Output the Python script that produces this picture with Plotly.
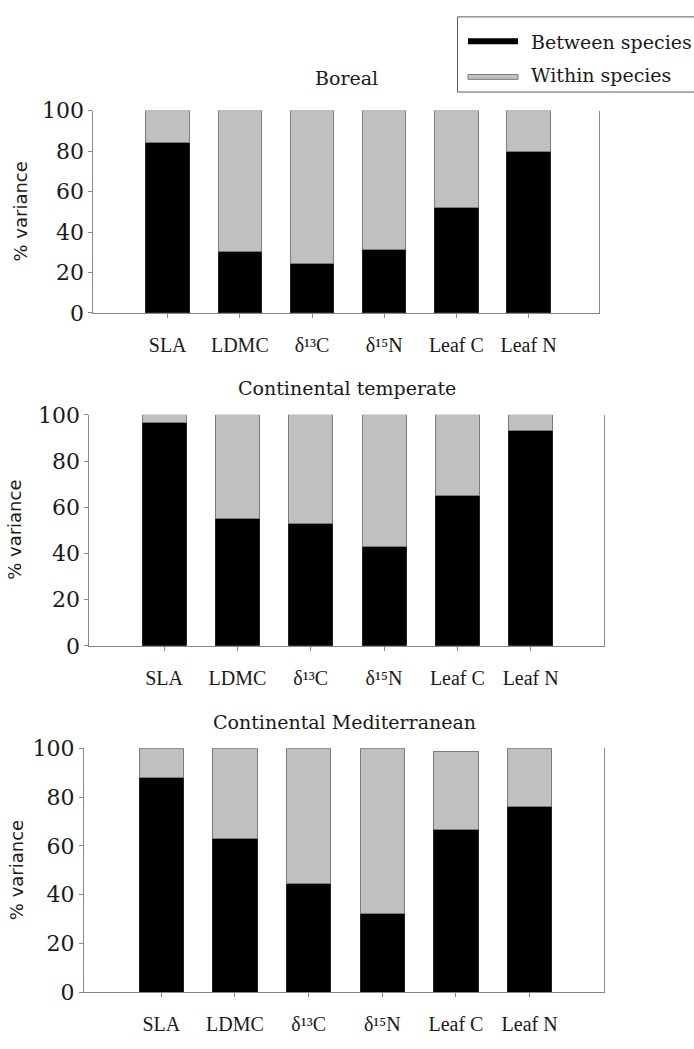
import plotly.graph_objects as go

W, H = 694, 1049

traits = ["SLA", "LDMC", "δ¹³C", "δ¹⁵N", "Leaf C", "Leaf N"]

regions = ["Boreal", "Continental temperate", "Continental Mediterranean"]

boreal_between = [84.2, 30.4, 24.6, 31.6, 52.1, 79.9]
boreal_within = [15.8, 69.6, 75.4, 68.4, 47.9, 20.1]

temperate_between = [96.5, 55.2, 52.8, 42.8, 65.1, 93.1]
temperate_within = [3.5, 44.8, 47.2, 57.2, 34.9, 6.9]

mediterranean_between = [88.1, 62.9, 44.5, 32.4, 66.9, 76.2]
mediterranean_within = [11.9, 37.1, 55.5, 67.6, 31.9, 23.8]

y_ticks = [0, 20, 40, 60, 80, 100]

series = [
    (boreal_between, boreal_within),
    (temperate_between, temperate_within),
    (mediterranean_between, mediterranean_within),
]

# panel geometry in pixels: (left, right, top, bottom), x range
panels = [
    ((93.3, 599.3, 101.0, 308.3), [-1.03, 5.98]),
    ((89.3, 604.0, 412.7, 649.3), [-1.02, 6.00]),
    ((84.0, 604.0, 754.3, 1004.0), [-1.05, 6.01]),
]

AXIS = "#868686"
TEXT = "#1a1a1a"
GREY = "#c0c0c0"


def px(x):
    return x / W


def py(y):
    return 1 - y / H


fig = go.Figure()
x_idx = list(range(len(traits)))

for i, (between, within) in enumerate(series):
    n = "" if i == 0 else str(i + 1)
    fig.add_trace(go.Bar(
        x=x_idx, y=between, xaxis="x" + n, yaxis="y" + n,
        marker=dict(color="black", line=dict(color="#202020", width=1)),
        width=0.6, showlegend=False, name="Between species",
    ))
    fig.add_trace(go.Bar(
        x=x_idx, y=within, xaxis="x" + n, yaxis="y" + n,
        marker=dict(color=GREY, line=dict(color="#7a7a7a", width=1)),
        width=0.6, showlegend=False, name="Within species",
    ))

layout = dict(
    width=W, height=H,
    margin=dict(l=0, r=0, t=0, b=0),
    paper_bgcolor="white", plot_bgcolor="white",
    barmode="stack", bargap=0.4,
    showlegend=False,
)

annotations = []
for i, ((l, r, t, b), xr) in enumerate(panels):
    n = "" if i == 0 else str(i + 1)
    layout["xaxis" + n] = dict(
        domain=[px(l), px(r)], anchor="y" + n, range=xr,
        tickmode="array", tickvals=x_idx, ticktext=traits,
        ticks="outside", ticklen=4, tickcolor=AXIS, tickwidth=1,
        showline=True, linecolor=AXIS, linewidth=1,
        showgrid=False, zeroline=False,
        ticklabelstandoff=10,
        tickfont=dict(family="Liberation Serif, serif", size=20, color=TEXT),
    )
    layout["yaxis" + n] = dict(
        domain=[py(b), py(t)], anchor="x" + n, range=[0, 100],
        tickmode="array", tickvals=y_ticks,
        ticks="outside", ticklen=4, tickcolor=AXIS, tickwidth=1,
        showline=True, linecolor=AXIS, linewidth=1, mirror=True,
        showgrid=False, zeroline=False,
        tickfont=dict(family="DejaVu Serif, serif", size=22, color=TEXT),
    )
    # panel title
    annotations.append(dict(
        text=regions[i], xref="paper", yref="paper",
        x=px((l + r) / 2), y=py([68, 385, 727][i]),
        xanchor="center", yanchor="middle", showarrow=False,
        font=dict(family="DejaVu Serif, serif", size=19, color=TEXT),
    ))
    # y-axis title
    annotations.append(dict(
        text="% variance", xref="paper", yref="paper",
        x=px([20.7, 14.5, 16.0][i]), y=py((t + b) / 2),
        xanchor="center", yanchor="middle", showarrow=False, textangle=-90,
        font=dict(family="DejaVu Sans, sans-serif", size=18, color=TEXT),
    ))

# legend box and keys
shapes = [
    dict(type="rect", xref="paper", yref="paper",
         x0=px(457.5), x1=px(710), y0=py(82), y1=py(5),
         line=dict(color="#5a5a5a", width=1), fillcolor="white"),
    dict(type="rect", xref="paper", yref="paper",
         x0=px(468), x1=px(518), y0=py(33), y1=py(27),
         line=dict(color="black", width=0), fillcolor="black"),
    dict(type="rect", xref="paper", yref="paper",
         x0=px(468), x1=px(518), y0=py(69), y1=py(64),
         line=dict(color="#7a7a7a", width=1), fillcolor=GREY),
]
for label, yc in [("Between species", 31), ("Within species", 64.5)]:
    annotations.append(dict(
        text=label, xref="paper", yref="paper",
        x=px(529), y=py(yc), xanchor="left", yanchor="middle",
        showarrow=False,
        font=dict(family="DejaVu Serif, serif", size=19, color=TEXT),
    ))

layout["annotations"] = annotations
layout["shapes"] = shapes
fig.update_layout(**layout)

fig.write_html("out.html")
